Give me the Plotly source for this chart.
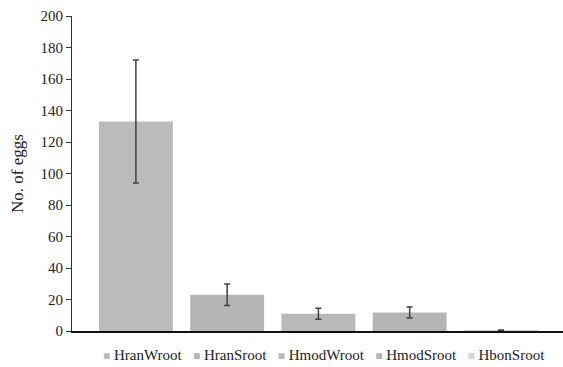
import plotly.graph_objects as go

categories = ["HranWroot", "HranSroot", "HmodWroot", "HmodSroot", "HbonSroot"]
values = [133, 23, 11, 11.8, 0.2]
errors = [39, 6.8, 3.5, 3.5, 0.5]
colors = ["#bbbbbb", "#b5b5b5", "#b9b9b9", "#b5b5b5", "#d4d4d4"]
y_ticks = [0, 20, 40, 60, 80, 100, 120, 140, 160, 180, 200]

FONT = "Liberation Serif"

fig = go.Figure()
for c, v, e, col in zip(categories, values, errors, colors):
    fig.add_trace(go.Bar(
        x=[c], y=[v], name=c, width=0.81,
        marker=dict(color=col, line=dict(width=0)),
        error_y=dict(type="data", array=[e], visible=True,
                     color="#404040", thickness=1.5, width=3),
        showlegend=False,
    ))

legend_text = "   ".join(
    f'<span style="color:{col}; font-size:12px">■</span> {c}' for c, col in zip(categories, colors)
)
fig.add_annotation(text=legend_text, xref="paper", yref="paper",
                   x=(324 - 72) / 491, y=-0.075, xanchor="center", yanchor="middle",
                   showarrow=False, font=dict(family=FONT, size=15, color="#222"))

fig.update_layout(
    width=563, height=367,
    margin=dict(l=72, r=0, t=16, b=36),
    paper_bgcolor="white", plot_bgcolor="white",
    barmode="overlay",
    font=dict(family=FONT, size=15, color="#222"),
    xaxis=dict(type="category", range=[-0.70, 4.68], showticklabels=False,
               showline=True, linecolor="#111", linewidth=1.5, ticks="",
               showgrid=False, zeroline=False, automargin=False),
    yaxis=dict(range=[0, 200], tickvals=y_ticks, showline=True, linecolor="#333",
               linewidth=1, ticks="outside", ticklen=5, tickcolor="#333",
               tickfont=dict(family=FONT, size=15, color="#222"),
               showgrid=False, zeroline=False, automargin=False,
               title=dict(text="No. of eggs", font=dict(family=FONT, size=17), standoff=12)),
)
fig.write_html("out.html", config={"displayModeBar": False},
               post_script="document.body.style.margin='0';")
